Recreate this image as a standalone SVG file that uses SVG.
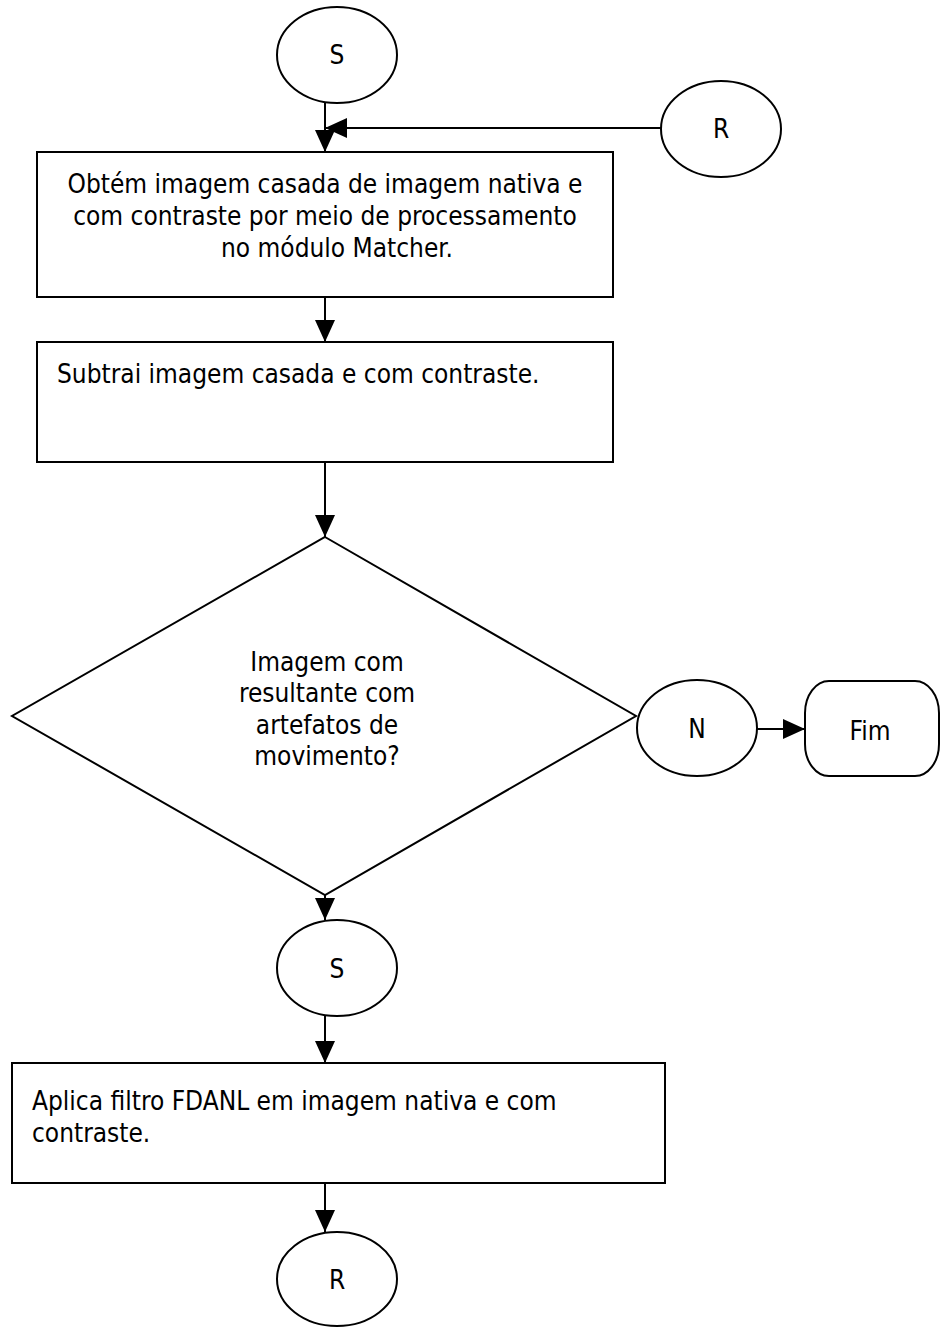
<svg xmlns="http://www.w3.org/2000/svg" width="941" height="1327" viewBox="0 0 941 1327">
  <style>
    .shape { fill: #ffffff; stroke: #000000; stroke-width: 2; }
    .wire { fill: none; stroke: #000000; stroke-width: 2; }
    .label { font-family: "DejaVu Sans Condensed", "DejaVu Sans", sans-serif; font-size: 26px; fill: #000000; }
    .mid { text-anchor: middle; }
  </style>
  <defs>
    <marker id="head" markerUnits="userSpaceOnUse" markerWidth="22" markerHeight="22" refX="22" refY="11" orient="auto">
      <polygon points="0,1 22,11 0,21" fill="#000000"/>
    </marker>
  </defs>

  <rect width="941" height="1327" fill="#ffffff"/>

  <!-- connectors -->
  <g id="connectors">
    <line class="wire" x1="325" y1="102" x2="325" y2="152" marker-end="url(#head)"/>
    <line class="wire" x1="661" y1="128" x2="325" y2="128" marker-end="url(#head)"/>
    <line class="wire" x1="325" y1="297" x2="325" y2="342" marker-end="url(#head)"/>
    <line class="wire" x1="325" y1="462" x2="325" y2="537" marker-end="url(#head)"/>
    <line class="wire" x1="325" y1="895" x2="325" y2="920" marker-end="url(#head)"/>
    <line class="wire" x1="757" y1="729" x2="805" y2="729" marker-end="url(#head)"/>
    <line class="wire" x1="325" y1="1016" x2="325" y2="1063" marker-end="url(#head)"/>
    <line class="wire" x1="325" y1="1183" x2="325" y2="1232" marker-end="url(#head)"/>
  </g>

  <!-- start connector S -->
  <g id="start-s">
    <ellipse class="shape" cx="337" cy="55" rx="60" ry="48"/>
    <text class="label mid" x="337" y="64">S</text>
  </g>

  <!-- return connector R -->
  <g id="return-r">
    <ellipse class="shape" cx="721" cy="129" rx="60" ry="48"/>
    <text class="label mid" x="721" y="138">R</text>
  </g>

  <!-- step: matcher -->
  <g id="step-matcher">
    <rect class="shape" x="37" y="152" width="576" height="145"/>
    <text class="label mid" x="325" y="193">Obtém imagem casada de imagem nativa e</text>
    <text class="label mid" x="325" y="225">com contraste por meio de processamento</text>
    <text class="label mid" x="337" y="257">no módulo Matcher.</text>
  </g>

  <!-- step: subtraction -->
  <g id="step-subtract">
    <rect class="shape" x="37" y="342" width="576" height="120"/>
    <text class="label" x="57" y="383">Subtrai imagem casada e com contraste.</text>
  </g>

  <!-- decision -->
  <g id="decision">
    <polygon class="shape" points="325,537 636,716 325,895 12,716"/>
    <text class="label mid" x="327" y="671">Imagem com</text>
    <text class="label mid" x="327" y="702">resultante com</text>
    <text class="label mid" x="327" y="734">artefatos de</text>
    <text class="label mid" x="327" y="765">movimento?</text>
  </g>

  <!-- branch N -->
  <g id="branch-n">
    <ellipse class="shape" cx="697" cy="728" rx="60" ry="48"/>
    <text class="label mid" x="697" y="738">N</text>
  </g>

  <!-- terminator -->
  <g id="end">
    <rect class="shape" x="805" y="681" width="134" height="95" rx="24" ry="32"/>
    <text class="label mid" x="870" y="740">Fim</text>
  </g>

  <!-- branch S -->
  <g id="branch-s">
    <ellipse class="shape" cx="337" cy="968" rx="60" ry="48"/>
    <text class="label mid" x="337" y="978">S</text>
  </g>

  <!-- step: filter -->
  <g id="step-filter">
    <rect class="shape" x="12" y="1063" width="653" height="120"/>
    <text class="label" x="32" y="1110">Aplica filtro FDANL em imagem nativa e com</text>
    <text class="label" x="32" y="1142">contraste.</text>
  </g>

  <!-- return connector R -->
  <g id="end-r">
    <ellipse class="shape" cx="337" cy="1279" rx="60" ry="47"/>
    <text class="label mid" x="337" y="1289">R</text>
  </g>
</svg>
